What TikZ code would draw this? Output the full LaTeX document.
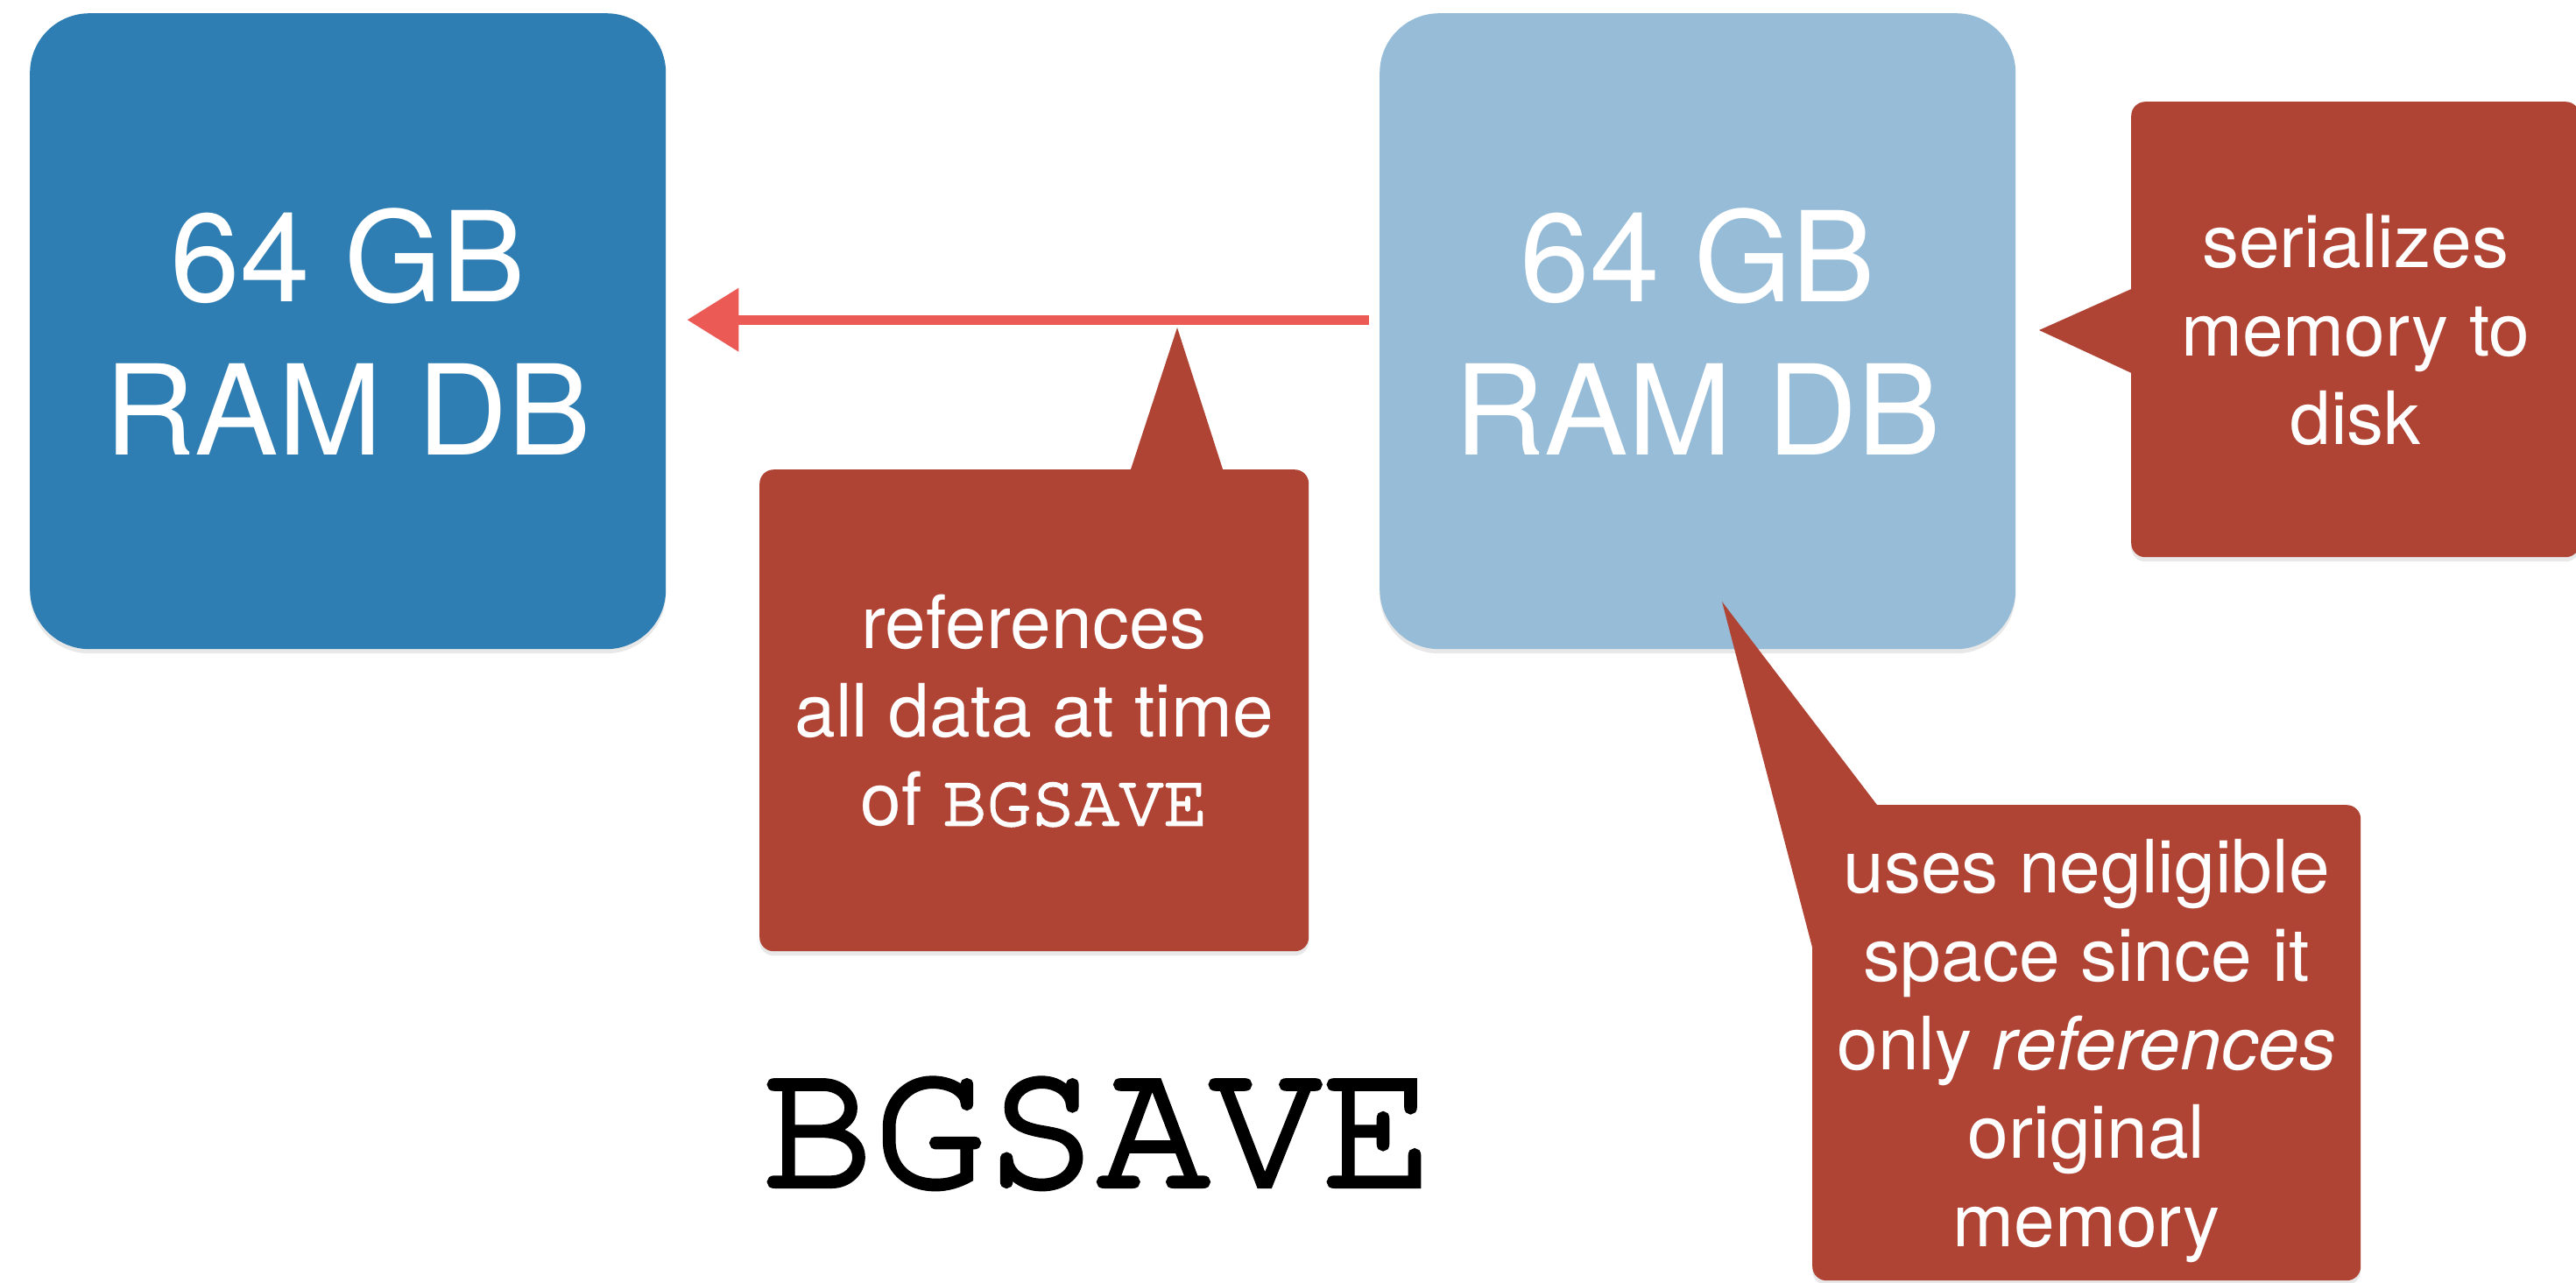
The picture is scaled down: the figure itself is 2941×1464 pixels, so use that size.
\documentclass[tikz,border=0pt]{standalone}
\usepackage{fontspec}
\setmainfont{TeX Gyre Heros}
\IfFontExistsTF{TeX Gyre Cursor}
  {\newfontfamily\cour[FakeBold=2.8]{TeX Gyre Cursor}}
  {\newfontfamily\cour[FakeBold=2.8]{Latin Modern Mono}}
\usetikzlibrary{arrows.meta,shadows}
\definecolor{dbblue}{RGB}{47,126,179}
\definecolor{lbblue}{RGB}{150,188,215}
\definecolor{calred}{RGB}{176,68,52}
\definecolor{arrred}{RGB}{236,90,86}
\begin{document}
\begin{tikzpicture}[x=1pt,y=-1pt,
  dbbox/.style={rounded corners=68pt, minimum width=726pt, minimum height=726pt,
    inner sep=0pt, text=white, align=center, font=\fontsize{143}{175}\selectfont,
    drop shadow={opacity=0.18, shadow xshift=0pt, shadow yshift=-5pt}},
  callout/.style={fill=calred, rounded corners=16pt, inner sep=0pt, text=white,
    align=center, font=\fontsize{84}{101}\selectfont,
    drop shadow={opacity=0.18, shadow xshift=0pt, shadow yshift=-5pt}},
  pointer/.style={fill=calred},
  link/.style={draw=arrred, line width=11pt, -{Triangle[length=59pt, width=70pt]}},
  title/.style={font=\cour\fontsize{213}{213}\selectfont, inner sep=0pt}
  ]
\fill[white] (0,0) rectangle (2941,1464);
\useasboundingbox (0,0) rectangle (2941,1464);

% database boxes
\node[dbbox, fill=dbblue, anchor=north west] (left) at (34,15) {64 GB\\RAM DB};
\node[dbbox, fill=lbblue, anchor=north west] (right) at (1575,15) {64 GB\\RAM DB};

% callout pointers (drawn below the callout bodies)
\coordinate (p1tip) at (1344,374);
\coordinate (p2tip) at (2328,377);
\coordinate (p3tip) at (1966,687);
\fill[pointer] (1289,542) -- (p1tip) -- (1398,542) -- cycle;
\fill[pointer] (2440,327) -- (p2tip) -- (2440,429) -- cycle;
\fill[pointer] (2146,923) -- (p3tip) -- (2073,1097) -- (2110,1000) -- cycle;

% callouts
\node[callout, minimum width=627pt, minimum height=550pt, anchor=north west] (c1) at (867,536)
  {references\\all data at time\\of {\cour BGSAVE}};
\node[callout, minimum width=512pt, minimum height=520pt, anchor=north west] (c2) at (2433,116)
  {serializes\\memory to\\disk};
\node[callout, minimum width=626pt, minimum height=543pt, anchor=north west, text depth=0pt] (c3) at (2069,919)
  {uses negligible\\space since it\\only \textit{references}\\original\\memory};

% arrow
\draw[link, shorten >=24pt, shorten <=12pt] ([yshift=13pt]right.west) -- ([yshift=13pt]left.east);

% title
\node[title, anchor=base] (bg) at (1253,1354) {BGSAVE};
\end{tikzpicture}
\end{document}
